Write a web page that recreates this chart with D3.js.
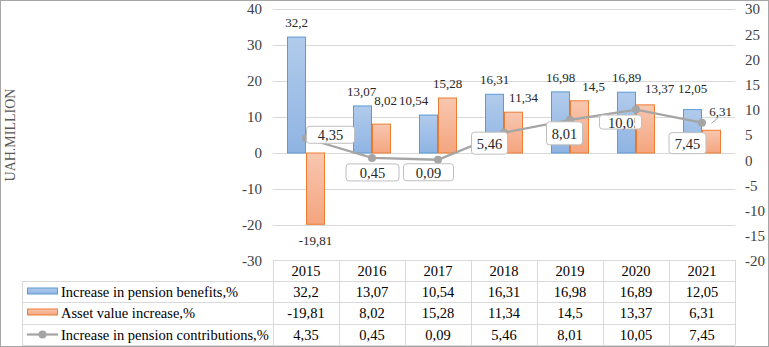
<!DOCTYPE html>
<html>
<head>
<meta charset="utf-8">
<script src="https://cdn.jsdelivr.net/npm/d3@7"></script>
<style>
  html, body { margin: 0; padding: 0; background: #fff; }
  svg { display: block; font-family: "Liberation Serif", "Times New Roman", serif; }
</style>
</head>
<body>
<svg width="769" height="347"></svg>
<script>
const years = ['2015', '2016', '2017', '2018', '2019', '2020', '2021']
const benefits = [32.2, 13.07, 10.54, 16.31, 16.98, 16.89, 12.05]
const assets = [-19.81, 8.02, 15.28, 11.34, 14.5, 13.37, 6.31]
const contributions = [4.35, 0.45, 0.09, 5.46, 8.01, 10.05, 7.45]
const leftTicks = [-30, -20, -10, 0, 10, 20, 30, 40]
const rightTicks = [-20, -15, -10, -5, 0, 5, 10, 15, 20, 25, 30]
const seriesNames = ['Increase in pension benefits,%', 'Asset value increase,%', 'Increase in pension contributions,%']

// label nudges, as Excel left them
const benefitNudge = [[0, 0], [-1, 0], [-15, 0], [0, 0], [0, 0], [0, 0], [0, -7]]
const assetNudge = [[0, 0], [4, -9], [0, 0], [10, 0], [14, 0], [14, -2], [9, -4]]
// line label boxes: [dx, dy, w, h] from the point to box centre
const lineBoxes = [[24, -4, 48, 17], [0, 14, 53, 17], [-10, 12, 50, 17], [-15, 10, 36, 22], [-6, 13, 36, 23], [-16, 12, 42, 14], [-15, 20, 37, 21]]

const svg = d3.select('svg'),
  fmt = v => String(v).replace('.', ','),
  plotL = 273,
  plotR = 735,
  plotT = 9,
  plotB = 261

const x = d3.scaleBand().domain(years).range([plotL, plotR]).padding(0)
const x1 = d3.scaleBand().domain(['b', 'a']).range([14, 52])
const y = d3.scaleLinear().domain([-30, 40]).range([plotB, plotT])
const y2 = d3.scaleLinear().domain([-20, 30]).range([plotB, plotT])

const defs = svg.append('defs')
function grad(id, c1, c2) {
  const g = defs.append('linearGradient').attr('id', id).attr('x1', 0).attr('y1', 0).attr('x2', 0).attr('y2', 1)
  g.append('stop').attr('offset', '0%').attr('stop-color', c1)
  g.append('stop').attr('offset', '100%').attr('stop-color', c2)
}
grad('gBlue', '#b1cbeb', '#8fb4e3')
grad('gOrange', '#f8c7b0', '#f4a57f')

// outer frame
svg.append('rect').attr('x', 0.5).attr('y', 0.5).attr('width', 768).attr('height', 346)
  .attr('fill', 'none').attr('stroke', '#a6a6a6')

// gridlines
svg.append('g').selectAll('line').data(leftTicks.filter(d => d > -30)).join('line')
  .attr('x1', plotL).attr('x2', plotR)
  .attr('y1', d => y(d) + 0.5).attr('y2', d => y(d) + 0.5)
  .attr('stroke', '#d9d9d9')

// axes
const axL = svg.append('g').attr('transform', `translate(${plotL},0)`)
  .call(d3.axisLeft(y).tickValues(leftTicks).tickSize(0).tickPadding(11).tickFormat(d => String(d)))
const axR = svg.append('g').attr('transform', `translate(${plotR},0)`)
  .call(d3.axisRight(y2).tickValues(rightTicks).tickSize(0).tickPadding(10).tickFormat(d => String(d)))
;[axL, axR].forEach(a => {
  a.select('.domain').remove()
  a.selectAll('text').attr('font-size', 15).attr('fill', '#404040')
})

svg.append('text')
  .attr('transform', 'translate(15,135) rotate(-90)')
  .attr('text-anchor', 'middle')
  .attr('font-size', 14).attr('fill', '#595959')
  .text('UAH.MILLION')

// bars
const bars = svg.append('g')
bars.selectAll('.b').data(benefits).join('rect')
  .attr('x', (d, i) => x(years[i]) + x1('b') + 0.5)
  .attr('width', x1.bandwidth() - 1)
  .attr('y', d => y(Math.max(0, d)))
  .attr('height', d => Math.abs(y(d) - y(0)))
  .attr('fill', 'url(#gBlue)').attr('stroke', '#5b9bd5')
bars.selectAll('.a').data(assets).join('rect')
  .attr('x', (d, i) => x(years[i]) + x1('a') + 0.5)
  .attr('width', x1.bandwidth() - 1)
  .attr('y', d => y(Math.max(0, d)))
  .attr('height', d => Math.abs(y(d) - y(0)))
  .attr('fill', 'url(#gOrange)').attr('stroke', '#ed7d31')

// bar labels
function barLabels(data, key, nudge) {
  svg.append('g').selectAll('text').data(data).join('text')
    .attr('x', (d, i) => x(years[i]) + x1(key) + x1.bandwidth() / 2 + nudge[i][0])
    .attr('y', d => (d >= 0 ? y(d) - 10 : y(d) + 21))
    .attr('dy', (d, i) => nudge[i][1])
    .attr('text-anchor', 'middle')
    .attr('font-size', 13).attr('fill', '#262626')
    .text(fmt)
}
barLabels(benefits, 'b', benefitNudge)
barLabels(assets, 'a', assetNudge)

// leader line of the last asset label
{
  const i = years.length - 1,
    bx = x(years[i]) + x1('a') + x1.bandwidth() / 2,
    by = y(assets[i])
  svg.append('line').attr('x1', bx).attr('y1', by - 7).attr('x2', bx + 6).attr('y2', by - 12)
    .attr('stroke', '#a6a6a6')
}

// contributions line
const cx = i => x(years[i]) + x.bandwidth() / 2
svg.append('path')
  .attr('d', d3.line().x((d, i) => cx(i)).y(d => y2(d))(contributions))
  .attr('fill', 'none').attr('stroke', '#a5a5a5').attr('stroke-width', 2.25)
svg.append('g').selectAll('circle').data(contributions).join('circle')
  .attr('cx', (d, i) => cx(i)).attr('cy', d => y2(d)).attr('r', 4)
  .attr('fill', '#a5a5a5')

// line labels in boxes
const lbl = svg.append('g').selectAll('g').data(contributions).join('g')
lbl.each(function (d, i) {
  const [dx, dy, w, h] = lineBoxes[i],
    bx = cx(i) + dx - w / 2,
    by = y2(d) + dy - h / 2,
    g = d3.select(this)
  g.append('rect').attr('x', bx + 0.5).attr('y', by + 0.5).attr('width', w).attr('height', h)
    .attr('rx', 3).attr('fill', '#fff').attr('stroke', '#bfbfbf')
  const t = g.append('text')
    .attr('font-family', '"Liberation Serif", serif')
    .attr('font-size', 14.5).attr('fill', '#262626')
    .attr('y', by + h / 2 + 1).attr('dy', '0.35em')
    .text(fmt(d))
  const tw = t.node().getComputedTextLength()
  if (tw > 0.75 * w) {
    // text too wide for its box: Excel cuts it off
    defs.append('clipPath').attr('id', 'clip' + i)
      .append('rect').attr('x', bx).attr('y', by - 4).attr('width', w - 6).attr('height', h + 8)
    t.attr('x', bx + 9).attr('clip-path', `url(#clip${i})`)
  } else {
    t.attr('x', bx + w / 2 + 0.5).attr('text-anchor', 'middle')
  }
})

// data table
const rowTops = [260, 281, 302, 324, 345]
const table = svg.append('g').attr('stroke', '#d9d9d9')
table.append('line').attr('x1', plotL).attr('x2', plotR).attr('y1', rowTops[0] + 0.5).attr('y2', rowTops[0] + 0.5)
rowTops.slice(1).forEach(r => {
  table.append('line').attr('x1', 22).attr('x2', plotR).attr('y1', r + 0.5).attr('y2', r + 0.5)
})
table.append('line').attr('x1', 22.5).attr('x2', 22.5).attr('y1', rowTops[1]).attr('y2', rowTops[4])
years.forEach(yr => {
  table.append('line').attr('x1', x(yr) + 0.5).attr('x2', x(yr) + 0.5).attr('y1', rowTops[0]).attr('y2', rowTops[4])
})
table.append('line').attr('x1', plotR + 0.5).attr('x2', plotR + 0.5).attr('y1', rowTops[0]).attr('y2', rowTops[4])

const cellText = svg.append('g').attr('font-size', 14.5).attr('fill', '#000').attr('text-anchor', 'middle')
cellText.selectAll('.yr').data(years).join('text')
  .attr('x', d => x(d) + x.bandwidth() / 2).attr('y', rowTops[0] + 16)
  .text(d => d)
;[benefits, assets, contributions].forEach((s, r) => {
  cellText.append('g').selectAll('text').data(s).join('text')
    .attr('x', (d, i) => cx(i)).attr('y', rowTops[r + 1] + 16)
    .text(fmt)
})

// legend keys + names
const leg = svg.append('g')
seriesNames.forEach((name, r) => {
  const my = rowTops[r + 1] + 10.5
  if (r < 2) {
    leg.append('rect').attr('x', 27.5).attr('y', my - 3.5).attr('width', 30).attr('height', 6)
      .attr('fill', r === 0 ? 'url(#gBlue)' : 'url(#gOrange)')
      .attr('stroke', r === 0 ? '#5b9bd5' : '#ed7d31')
  } else {
    leg.append('line').attr('x1', 27).attr('x2', 58).attr('y1', my).attr('y2', my)
      .attr('stroke', '#a5a5a5').attr('stroke-width', 2.25)
    leg.append('circle').attr('cx', 42.5).attr('cy', my).attr('r', 4).attr('fill', '#a5a5a5')
  }
  leg.append('text').attr('x', 61).attr('y', rowTops[r + 1] + 16)
    .attr('font-size', 14.5).attr('fill', '#000').text(name)
})

svg.selectAll('text').attr('font-family', '"Liberation Serif", "Times New Roman", serif')
</script>
</body>
</html>
